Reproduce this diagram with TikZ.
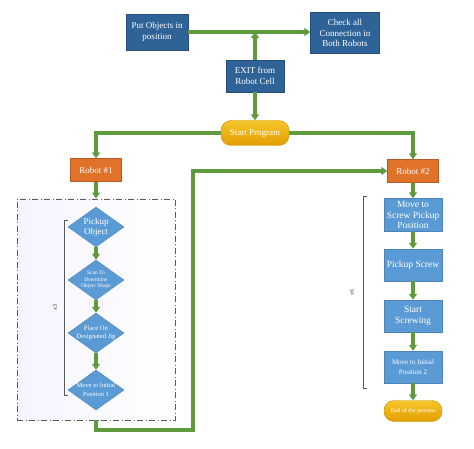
\documentclass[tikz,border=0pt]{standalone}
\usepackage{fontspec}
\setmainfont{Liberation Serif}
\usetikzlibrary{shapes.geometric,arrows.meta}

\definecolor{darkbox}{HTML}{2F6397}
\definecolor{lightbox}{HTML}{5B9BD5}
\definecolor{flowgreen}{HTML}{5E9B3C}
\definecolor{robotorange}{HTML}{E0722A}
\definecolor{pilltop}{HTML}{F6C62C}
\definecolor{pillbottom}{HTML}{E39E00}

\tikzset{
  darkstep/.style={rectangle, fill=darkbox, draw=darkbox!80!black, text=white,
    align=center, inner sep=1pt, font=\fontsize{9}{10.5}\selectfont},
  lightstep/.style={rectangle, fill=lightbox, draw=lightbox!85!black, text=white,
    align=center, inner sep=1pt, minimum width=58pt, minimum height=32pt,
    font=\fontsize{9.5}{10.5}\selectfont},
  robotbox/.style={rectangle, fill=robotorange, draw=robotorange!80!black, text=white,
    minimum width=51pt, minimum height=23pt, font=\fontsize{9}{10}\selectfont},
  pill/.style={rectangle, rounded corners=10pt, top color=pilltop, bottom color=pillbottom,
    draw=pillbottom!90!black, text=white, inner sep=1pt},
  diastep/.style={diamond, fill=lightbox, draw=lightbox!85!black,
    minimum width=56pt, minimum height=40pt, inner sep=0pt},
  diatext/.style={text=white, align=center},
  flow/.style={draw=flowgreen, line width=3.2pt, -{Triangle[length=6pt,width=8pt]}},
  repeatline/.style={draw=gray!70!black, line width=0.8pt},
}

\begin{document}
\begin{tikzpicture}[x=1pt, y=-1pt]
\useasboundingbox (0,0) rectangle (474,449);

% top part
\node[darkstep, minimum width=62pt, minimum height=36pt] (place) at (157,32) {Put Objects in\\position};
\node[darkstep, minimum width=69pt, minimum height=41pt] (check) at (345,33) {Check all\\Connection in\\Both Robots};
\node[darkstep, minimum width=58pt, minimum height=32pt] (exit) at (255,76) {EXIT from\\Robot Cell};
\node[pill, minimum width=68pt, minimum height=25pt, font=\fontsize{9}{10}\selectfont] (start) at (255,133) {Start Program};
\draw[flow] (place.east) -- (place.east -| check.west);
\draw[flow] (exit) -- (exit |- place.east);
\draw[flow] (exit) -- (start);

% robots
\node[robotbox] (robot1) at (96,170) {Robot \#1};
\node[robotbox] (robot2) at (413,171) {Robot \#2};
\draw[flow] (start.west) -| (robot1.north);
\draw[flow] (start.east) -| (robot2.north);

% robot 1 loop
\node[draw=gray!70!black, dash pattern=on 6pt off 2.5pt on 1pt off 2.5pt, line width=0.9pt,
  left color=blue!4, right color=white,
  minimum width=158pt, minimum height=221pt] (frame1) at (96,309.5) {};
\draw[flow] (robot1) -- (frame1.north);
\node[diastep, label={[diatext, font=\fontsize{9}{10}\selectfont]center:Pickup\\Object}] (pick) at (96,227) {};
\node[diastep, label={[diatext, font=\fontsize{5.5}{6.5}\selectfont]center:Scan To\\Determine\\Object Shape}] (scan) at (96,280) {};
\node[diastep, label={[diatext, font=\fontsize{6.6}{8.5}\selectfont]center:Place On\\Designated Jig}] (jig) at (96,333) {};
\node[diastep, label={[diatext, font=\fontsize{6.4}{8.5}\selectfont]center:Move to Initial\\Position 1}] (move1) at (96,390) {};
\draw[flow] (pick) -- (scan);
\draw[flow] (scan) -- (jig);
\draw[flow] (jig) -- (move1);
\draw[repeatline] (68,220) -- (64,220) -- (64,395) -- (68,395);
\node[rotate=90, font=\fontsize{6}{7}\selectfont, text=black!75] (times1) at (55,307) {x3};

\coordinate (turn) at (193,430);
\draw[flow] (frame1.south) |- (turn) |- (robot2.west);

% robot 2 steps
\node[lightstep, minimum height=33pt] (screwpos) at (413,215) {Move to\\Screw Pickup\\Position};
\node[lightstep] (pickscrew) at (413,265) {Pickup Screw};
\node[lightstep] (screwing) at (413,316) {Start\\Screwing};
\node[lightstep, font=\fontsize{7}{10}\selectfont] (move2) at (413,367) {Move to Initial\\Position 2};
\node[pill, minimum width=58pt, minimum height=21pt, font=\fontsize{6}{7}\selectfont] (finish) at (413,411) {End of the process};
\draw[flow] (robot2) -- (screwpos);
\draw[flow] (screwpos) -- (pickscrew);
\draw[flow] (pickscrew) -- (screwing);
\draw[flow] (screwing) -- (move2);
\draw[flow] (move2) -- (finish);
\draw[repeatline] (367,196) -- (363,196) -- (363,388) -- (367,388);
\node[rotate=90, font=\fontsize{6}{7}\selectfont, text=black!75] (times2) at (352,292) {x6};
\end{tikzpicture}
\end{document}
